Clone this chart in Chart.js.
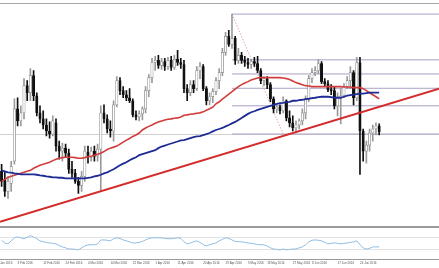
<!DOCTYPE html>
<html>
<head>
<meta charset="utf-8">
<script src="https://cdn.jsdelivr.net/npm/chart.js@4.4.1/dist/chart.umd.min.js"></script>
<style>
  html, body { margin: 0; padding: 0; background: #fff; }
  #wrap { width: 439px; height: 268px; position: relative; }
</style>
</head>
<body>
<div id="wrap"><canvas id="fxChart"></canvas></div>
<script>
// daily candles, late Jan - 27 Jun 2016 (x = bar number)
const opens = [
  0.7070,0.7030,0.6970,0.7010,0.7120,0.7380,0.7320,0.7360,0.7495,0.7460,
  0.7545,0.7445,0.7360,0.7330,0.7300,0.7270,0.7255,0.7310,0.7195,0.7170,
  0.7185,0.7160,0.7080,0.7060,0.7020,0.7000,0.7045,0.7165,0.7140,0.7170,
  0.7145,0.7180,0.7360,0.7330,0.7280,0.7270,0.7400,0.7520,0.7470,0.7450,
  0.7435,0.7420,0.7350,0.7340,0.7355,0.7380,0.7470,0.7535,0.7610,0.7620,
  0.7595,0.7615,0.7590,0.7620,0.7585,0.7625,0.7610,0.7600,0.7480,0.7460,
  0.7500,0.7480,0.7570,0.7590,0.7480,0.7420,0.7440,0.7465,0.7520,0.7560,
  0.7660,0.7740,0.7700,0.7730,0.7620,0.7645,0.7620,0.7610,0.7600,0.7615,
  0.7605,0.7570,0.7520,0.7530,0.7500,0.7430,0.7380,0.7390,0.7370,0.7420,
  0.7335,0.7310,0.7285,0.7300,0.7320,0.7360,0.7430,0.7530,0.7560,0.7570,
  0.7605,0.7515,0.7505,0.7475,0.7470,0.7395,0.7440,0.7445,0.7490,0.7520,
  0.7560,0.7435,0.7610,0.7270,0.7170,0.7200,0.7260,0.7280,0.7295
];
const highs = [
  0.7105,0.7070,0.7045,0.7120,0.7430,0.7435,0.7395,0.7530,0.7520,0.7580,
  0.7570,0.7460,0.7395,0.7370,0.7330,0.7315,0.7345,0.7330,0.7220,0.7210,
  0.7205,0.7180,0.7120,0.7080,0.7040,0.7070,0.7195,0.7195,0.7190,0.7195,
  0.7205,0.7395,0.7400,0.7350,0.7320,0.7420,0.7540,0.7535,0.7490,0.7470,
  0.7480,0.7430,0.7370,0.7370,0.7390,0.7490,0.7550,0.7630,0.7640,0.7645,
  0.7630,0.7630,0.7635,0.7640,0.7645,0.7670,0.7630,0.7620,0.7500,0.7520,
  0.7520,0.7590,0.7610,0.7600,0.7490,0.7460,0.7480,0.7535,0.7580,0.7680,
  0.7760,0.7770,0.7850,0.7740,0.7680,0.7660,0.7640,0.7630,0.7625,0.7635,
  0.7640,0.7580,0.7540,0.7540,0.7510,0.7440,0.7405,0.7400,0.7440,0.7425,
  0.7370,0.7345,0.7320,0.7330,0.7380,0.7445,0.7545,0.7580,0.7590,0.7625,
  0.7615,0.7530,0.7520,0.7500,0.7490,0.7460,0.7480,0.7505,0.7540,0.7590,
  0.7570,0.7635,0.7635,0.7280,0.7220,0.7280,0.7300,0.7310,0.7305
];
const lows = [
  0.6995,0.6945,0.6935,0.6970,0.7105,0.7295,0.7295,0.7330,0.7420,0.7420,
  0.7420,0.7345,0.7310,0.7280,0.7245,0.7235,0.7245,0.7170,0.7130,0.7120,
  0.7140,0.7060,0.7040,0.7010,0.6960,0.6970,0.7020,0.7110,0.7120,0.7120,
  0.7120,0.6970,0.7310,0.7260,0.7240,0.7220,0.7390,0.7450,0.7435,0.7420,
  0.7410,0.7340,0.7325,0.7320,0.7325,0.7360,0.7440,0.7510,0.7570,0.7580,
  0.7575,0.7570,0.7575,0.7570,0.7575,0.7595,0.7580,0.7460,0.7420,0.7445,
  0.7460,0.7470,0.7530,0.7470,0.7400,0.7400,0.7410,0.7450,0.7480,0.7545,
  0.7645,0.7690,0.7680,0.7600,0.7605,0.7605,0.7590,0.7580,0.7580,0.7590,
  0.7560,0.7505,0.7495,0.7480,0.7415,0.7360,0.7360,0.7355,0.7360,0.7320,
  0.7290,0.7270,0.7260,0.7280,0.7300,0.7330,0.7415,0.7510,0.7545,0.7555,
  0.7505,0.7490,0.7465,0.7450,0.7380,0.7345,0.7305,0.7435,0.7480,0.7480,
  0.7400,0.7420,0.7055,0.7120,0.7110,0.7170,0.7220,0.7250,0.7250
];
const closes = [
  0.7020,0.6970,0.7020,0.7095,0.7380,0.7320,0.7360,0.7495,0.7460,0.7545,
  0.7445,0.7360,0.7330,0.7300,0.7270,0.7255,0.7320,0.7195,0.7170,0.7185,
  0.7160,0.7080,0.7060,0.7020,0.7000,0.7045,0.7170,0.7140,0.7170,0.7145,
  0.7180,0.7360,0.7330,0.7280,0.7270,0.7400,0.7520,0.7470,0.7450,0.7435,
  0.7420,0.7350,0.7340,0.7355,0.7380,0.7470,0.7535,0.7610,0.7620,0.7595,
  0.7615,0.7590,0.7620,0.7585,0.7625,0.7610,0.7600,0.7480,0.7460,0.7500,
  0.7480,0.7570,0.7590,0.7480,0.7420,0.7440,0.7465,0.7520,0.7560,0.7660,
  0.7740,0.7700,0.7730,0.7620,0.7645,0.7620,0.7610,0.7600,0.7615,0.7605,
  0.7570,0.7520,0.7530,0.7500,0.7430,0.7380,0.7390,0.7370,0.7420,0.7335,
  0.7310,0.7285,0.7300,0.7320,0.7360,0.7430,0.7530,0.7560,0.7570,0.7605,
  0.7515,0.7505,0.7475,0.7470,0.7395,0.7440,0.7445,0.7490,0.7520,0.7560,
  0.7435,0.7610,0.7270,0.7170,0.7200,0.7260,0.7280,0.7295,0.7265
];
// red (faster) moving average
const maFast = [
  0.7020,0.7030,0.7040,0.7045,0.7050,0.7055,0.7060,0.7065,0.7070,0.7075,
  0.7085,0.7093,0.7100,0.7105,0.7110,0.7115,0.7123,0.7130,0.7135,0.7138,
  0.7140,0.7140,0.7140,0.7138,0.7135,0.7135,0.7138,0.7143,0.7145,0.7150,
  0.7155,0.7160,0.7168,0.7178,0.7185,0.7190,0.7195,0.7205,0.7215,0.7225,
  0.7233,0.7243,0.7250,0.7260,0.7275,0.7285,0.7293,0.7300,0.7308,0.7315,
  0.7320,0.7325,0.7328,0.7330,0.7333,0.7335,0.7340,0.7348,0.7350,0.7353,
  0.7355,0.7358,0.7360,0.7365,0.7373,0.7380,0.7388,0.7405,0.7415,0.7428,
  0.7440,0.7453,0.7465,0.7478,0.7490,0.7500,0.7508,0.7515,0.7523,0.7528,
  0.7533,0.7535,0.7535,0.7535,0.7535,0.7535,0.7535,0.7535,0.7533,0.7530,
  0.7525,0.7518,0.7510,0.7505,0.7500,0.7495,0.7493,0.7490,0.7490,0.7490,
  0.7490,0.7490,0.7490,0.7490,0.7490,0.7490,0.7490,0.7488,0.7488,0.7488,
  0.7485,0.7485,0.7485,0.7480,0.7470,0.7460,0.7450,0.7440,0.7430
];
// blue (slower) moving average
const maSlow = [
  0.7075,0.7070,0.7065,0.7063,0.7060,0.7058,0.7055,0.7055,0.7055,0.7055,
  0.7055,0.7053,0.7050,0.7048,0.7045,0.7043,0.7040,0.7040,0.7038,0.7038,
  0.7035,0.7035,0.7035,0.7035,0.7035,0.7035,0.7035,0.7038,0.7040,0.7045,
  0.7048,0.7053,0.7060,0.7065,0.7073,0.7080,0.7090,0.7100,0.7108,0.7115,
  0.7125,0.7133,0.7140,0.7150,0.7155,0.7160,0.7165,0.7170,0.7175,0.7185,
  0.7193,0.7198,0.7203,0.7208,0.7213,0.7218,0.7223,0.7225,0.7230,0.7235,
  0.7240,0.7243,0.7245,0.7250,0.7255,0.7260,0.7268,0.7275,0.7280,0.7285,
  0.7293,0.7300,0.7308,0.7315,0.7325,0.7335,0.7345,0.7355,0.7363,0.7368,
  0.7375,0.7380,0.7385,0.7390,0.7395,0.7400,0.7405,0.7408,0.7410,0.7413,
  0.7415,0.7420,0.7420,0.7423,0.7425,0.7428,0.7430,0.7433,0.7435,0.7438,
  0.7440,0.7440,0.7440,0.7438,0.7435,0.7435,0.7435,0.7440,0.7445,0.7448,
  0.7450,0.7453,0.7455,0.7455,0.7458,0.7460,0.7460,0.7460,0.7460
];
// oscillator in the lower pane
const osc = [
  62,53,50,60,70,73,70,67,72,77,
  73,67,60,57,55,53,52,50,45,40,
  37,33,33,32,30,37,43,47,47,47,
  50,63,63,62,60,67,70,68,63,60,
  57,53,53,55,58,63,68,70,70,70,
  70,68,67,67,68,70,68,57,50,53,
  57,60,55,48,43,47,50,53,60,65,
  70,68,63,58,57,57,55,53,52,50,
  48,47,47,43,37,33,32,30,33,30,
  32,33,33,37,40,47,57,62,63,62,
  60,55,50,52,53,52,50,52,53,55,
  57,60,47,37,33,35,40,40,40
];
const oscLevels = [70, 30];

// fibonacci retracement from the April high to the May low
const fiboLevels = [0.7850, 0.7623, 0.7553, 0.7482, 0.7395, 0.7255];
const fiboFromBar = 72;
const fiboSwingBars = [72, 88];
const fiboSwingPrices = [0.7850, 0.7255];

// rising trend line
const trendBars = [-0.5, 136.7];
const trendPrices = [0.6820, 0.7480];

const tickBars = [-0.5, 5, 13, 20, 27, 34, 41, 48, 55, 63, 70, 77, 83, 91, 97, 105, 112];
const tickLabels = ['Jan 2016', '3 Feb 2016', '12 Feb 2016', '24 Feb 2016', '4 Mar 2016', '14 Mar 2016',
  '22 Mar 2016', '1 Apr 2016', '11 Apr 2016', '20 Apr 2016', '29 Apr 2016', '9 May 2016',
  '18 May 2016', '27 May 2016', '8 Jun 2016', '17 Jun 2016', '24 Jun 2016'];

const X_MIN = -0.5, X_MAX = 136.7;

const up = closes.map((c, i) => c >= opens[i]);
const wickColor = up.map(u => u ? '#9a9a9a' : '#111');
const bodyFill = up.map(u => u ? '#ffffff' : '#111');
const bodyLine = up.map(u => u ? '#8a8a8a' : '#111');

const pts = arr => arr.map((v, i) => ({ x: i, y: v }));

const datasets = [];

fiboLevels.forEach(v => {
  datasets.push({
    type: 'line', data: [{ x: fiboFromBar, y: v }, { x: X_MAX, y: v }],
    borderColor: '#a99fc4', borderWidth: 1, pointRadius: 0, order: 20
  });
});
datasets.push({
  type: 'line',
  data: fiboSwingBars.map((b, i) => ({ x: b, y: fiboSwingPrices[i] })),
  borderColor: '#d8a8a8', borderWidth: 1, borderDash: [1.5, 1.5], pointRadius: 0, order: 19
});
datasets.push({
  type: 'bar', data: highs.map((h, i) => ({ x: i, y: [lows[i], h] })),
  backgroundColor: wickColor, barThickness: 1, grouped: false, order: 6
});
datasets.push({
  type: 'bar', data: opens.map((o, i) => ({ x: i, y: [o, closes[i]] })),
  backgroundColor: bodyFill, borderColor: bodyLine, borderWidth: 0.7, borderSkipped: false,
  barThickness: 2.4, grouped: false, order: 5
});
datasets.push({
  type: 'line', data: pts(maFast), borderColor: '#d23c3c', borderWidth: 1.6,
  pointRadius: 0, order: 3
});
datasets.push({
  type: 'line', data: pts(maSlow), borderColor: '#1f2b94', borderWidth: 1.8,
  pointRadius: 0, order: 2
});
datasets.push({
  type: 'line', data: trendBars.map((b, i) => ({ x: b, y: trendPrices[i] })),
  borderColor: '#d42c2c', borderWidth: 2, pointRadius: 0, order: 1
});
datasets.push({
  type: 'line', yAxisID: 'y2', data: pts(osc), borderColor: '#8fbde3', borderWidth: 1,
  pointRadius: 0, order: 4
});

new Chart(document.getElementById('fxChart'), {
  type: 'bar',
  data: { datasets },
  options: {
    responsive: true,
    maintainAspectRatio: false,
    animation: false,
    events: [],
    layout: { padding: { top: 2, bottom: 1.4, left: 0, right: 0 } },
    plugins: { legend: { display: false }, tooltip: { enabled: false } },
    scales: {
      x: {
        type: 'linear', min: X_MIN, max: X_MAX, offset: false,
        grid: { display: false, drawTicks: false, tickLength: 0 },
        border: { display: true, color: '#9a9a9a', width: 1 },
        afterBuildTicks: axis => { axis.ticks = tickBars.map(v => ({ value: v })); },
        afterFit: axis => { axis.paddingLeft = 0; axis.paddingRight = 0; },
        ticks: {
          autoSkip: false, maxRotation: 0, align: 'start', padding: 2,
          color: '#555', font: { size: 3, family: 'Liberation Sans' },
          callback: (v, i) => tickLabels[i]
        }
      },
      y: {
        stack: 'panes', stackWeight: 222, weight: 1, position: 'left',
        min: 0.6800, max: 0.7910, beginAtZero: false,
        ticks: { display: false }, border: { display: false },
        grid: {
          drawTicks: false, lineWidth: 1,
          color: c => c.tick.value > 0.79 ? '#a8a8a8' : '#d0d0d0'
        },
        afterBuildTicks: axis => { axis.ticks = [{ value: 0.7905 }, { value: fiboLevels[5] }]; }
      },
      y2: {
        stack: 'panes', stackWeight: 33, weight: 0, position: 'left',
        min: 0, max: 110, beginAtZero: false,
        ticks: { display: false }, border: { display: false },
        grid: {
          drawTicks: false,
          color: c => c.tick.value > 100 ? '#9a9a9a' : '#e2e2e2',
          lineWidth: c => c.tick.value > 100 ? 2 : 1
        },
        afterBuildTicks: axis => { axis.ticks = [{ value: 107 }].concat(oscLevels.map(v => ({ value: v }))); }
      }
    }
  }
});
</script>
</body>
</html>
